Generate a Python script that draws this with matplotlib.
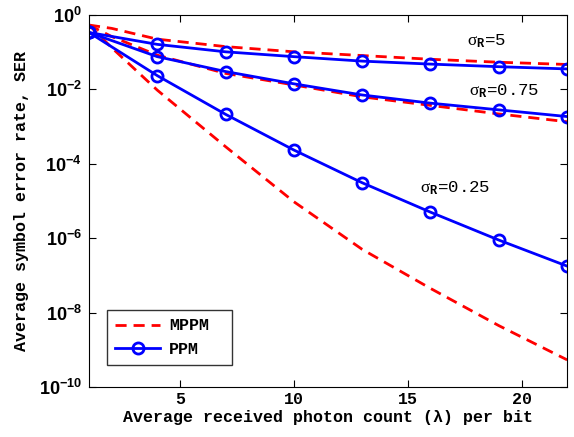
"""Average symbol error rate of MPPM vs PPM for several sigma_R values."""

import matplotlib
matplotlib.use("Agg")
import matplotlib.pyplot as plt
import numpy as np
from matplotlib.ticker import FuncFormatter

plt.rcParams['font.family'] = ['Liberation Mono', 'DejaVu Sans']
plt.rcParams['mathtext.fontset'] = 'custom'
plt.rcParams['mathtext.rm'] = 'Liberation Serif'
plt.rcParams['mathtext.it'] = 'Liberation Serif:italic'
plt.rcParams['mathtext.bf'] = 'Liberation Sans:bold'
plt.rcParams['mathtext.tt'] = 'Liberation Mono:bold'

# photon count per bit
x_ppm = [1, 4, 7, 10, 13, 16, 19, 22]
x_mppm = [1, 2, 4, 7, 10, 13, 16, 19, 22]

# PPM (log10 of SER)
ppm_s5 = [-0.47, -0.79, -0.99, -1.12, -1.24, -1.32, -1.39, -1.45]
ppm_s075 = [-0.47, -1.12, -1.52, -1.85, -2.15, -2.37, -2.55, -2.73]
ppm_s025 = [-0.47, -1.63, -2.67, -3.63, -4.51, -5.30, -6.05, -6.75]

# MPPM (log10 of SER)
mppm_s5 = [-0.27, -0.36, -0.65, -0.85, -0.99, -1.09, -1.19, -1.27, -1.33]
mppm_s075 = [-0.27, -0.58, -1.08, -1.57, -1.88, -2.20, -2.43, -2.66, -2.87]
mppm_s025 = [-0.27, -0.88, -2.02, -3.54, -5.02, -6.30, -7.35, -8.35, -9.27]

labels = ['$\\mathrm{\\sigma}_{\\mathtt{R}}$=5',
          '$\\mathrm{\\sigma}_{\\mathtt{R}}$=0.75',
          '$\\mathrm{\\sigma}_{\\mathtt{R}}$=0.25']
label_pos = [(17.6, -0.70), (17.7, -2.06), (15.55, -4.66)]

fig = plt.figure(figsize=(5.74, 4.37), dpi=100)
ax = fig.add_axes([0.155, 0.1144, 0.833, 0.8513])

first = True
for m in [mppm_s5, mppm_s075, mppm_s025]:
    ax.plot(x_mppm, [10 ** v for v in m], '--', color='#ff0000', linewidth=2,
            dashes=(4, 2.5), label='MPPM' if first else None)
    first = False

first = True
for p in [ppm_s5, ppm_s075, ppm_s025]:
    ax.plot(x_ppm, [10 ** v for v in p], '-o', color='#0000ff', linewidth=2,
            markersize=8, markerfacecolor='none', markeredgewidth=2,
            label='PPM' if first else None)
    first = False

for text, (tx, ty) in zip(labels, label_pos):
    ax.text(tx, 10 ** ty, text, fontsize=12.5, ha='left', va='center')

ax.set_yscale('log')
ax.set_xlim(1, 22)
ax.set_ylim(1e-10, 1)
ax.set_xticks([5, 10, 15, 20])
ax.set_yticks([1e-10, 1e-8, 1e-6, 1e-4, 1e-2, 1e0])
ax.yaxis.set_major_formatter(
    FuncFormatter(lambda v, pos: '$\\mathbf{10^{%d}}$' % int(round(np.log10(v)))))
ax.minorticks_off()
ax.tick_params(direction='in', top=True, right=True, length=5)
ax.tick_params(axis='x', labelsize=12)
ax.tick_params(axis='y', labelsize=13, pad=5)
for lab in ax.get_xticklabels():
    lab.set_fontweight('bold')

ax.set_xlabel('Average received photon count (\u03bb) per bit', fontsize=12,
              fontweight='bold', labelpad=2)
ax.set_ylabel('Average symbol error rate, SER', fontsize=12, fontweight='bold',
              labelpad=7)

leg = ax.legend(loc='lower left', bbox_to_anchor=(0.038, 0.059, 0.262, 0.14),
                mode='expand', fancybox=False,
                edgecolor='black', prop={'weight': 'bold', 'size': 12},
                handlelength=2.7, borderpad=0.5, labelspacing=0.5,
                borderaxespad=0, handletextpad=0.5)
leg.get_frame().set_linewidth(1)

fig.savefig('out.png', dpi=100)
